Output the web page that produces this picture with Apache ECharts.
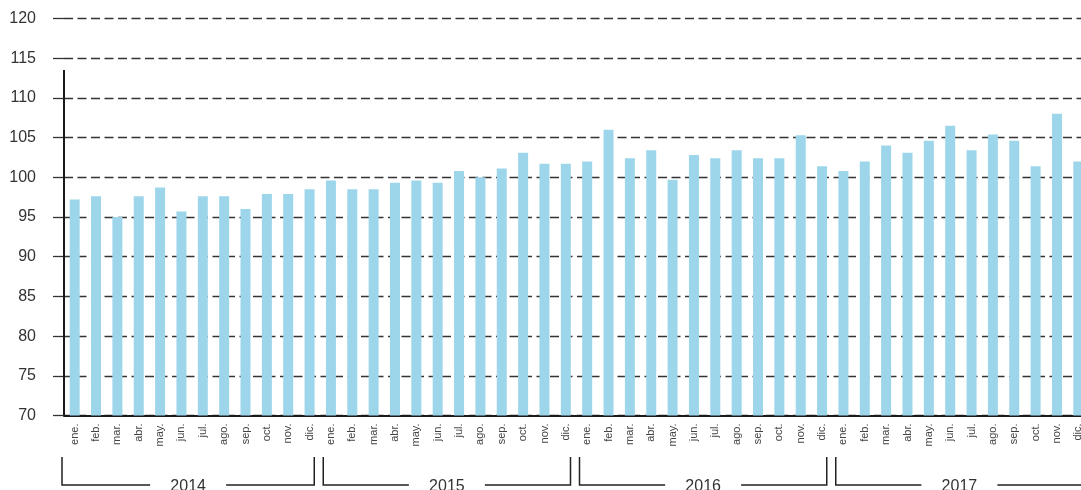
<!DOCTYPE html>
<html>
<head>
<meta charset="utf-8">
<script src="https://cdn.jsdelivr.net/npm/echarts@6/dist/echarts.min.js"></script>
<style>
  html, body { margin: 0; padding: 0; background: #fff; }
  #chart { width: 1081px; height: 490px; }
</style>
</head>
<body>
<div id="chart"></div>
<script>
// month labels and years
const months = ['ene.', 'feb.', 'mar.', 'abr.', 'may.', 'jun.', 'jul.', 'ago.', 'sep.', 'oct.', 'nov.', 'dic.'];
const years = ['2014', '2015', '2016', '2017'];

// index values per year
const v2014 = [97.2, 97.6, 95.0, 97.6, 98.7, 95.7, 97.6, 97.6, 96.0, 97.9, 97.9, 98.5];
const v2015 = [99.6, 98.5, 98.5, 99.3, 99.6, 99.3, 100.8, 100.0, 101.1, 103.1, 101.7, 101.7];
const v2016 = [102.0, 106.0, 102.4, 103.4, 99.7, 102.8, 102.4, 103.4, 102.4, 102.4, 105.3, 101.4];
const v2017 = [100.8, 102.0, 104.0, 103.1, 104.6, 106.5, 103.4, 105.4, 104.6, 101.4, 108.0, 102.0];

const yMin = 70;
const yMax = 120;
const yStep = 5;
const axisTop = 113.5; // vertical axis line stops below the 115 grid line

const categories = [];
years.forEach(() => months.forEach(m => categories.push(m)));
const values = [].concat(v2014, v2015, v2016, v2017);

const FONT = '"Liberation Sans", Arial, sans-serif';

const chart = echarts.init(document.getElementById('chart'), null, { renderer: 'canvas' });

const option = {
  animation: false,
  // plot runs a little past the right edge of the picture, as in the original
  grid: { left: 64, width: 1025, top: 18.5, bottom: 74.5, containLabel: false, outerBoundsMode: 'none' },
  xAxis: {
    type: 'category',
    data: categories,
    axisLine: { show: true, lineStyle: { color: '#1a1a1a', width: 2 } },
    axisTick: { show: false },
    axisLabel: {
      interval: 0,
      rotate: 90,
      margin: 8,
      color: '#444',
      fontSize: 11,
      fontFamily: FONT
    }
  },
  yAxis: {
    type: 'value',
    min: yMin,
    max: yMax,
    interval: yStep,
    axisLine: { show: false },
    axisTick: { show: true, length: 11, lineStyle: { color: '#333', width: 1.3 } },
    axisLabel: { margin: 28, color: '#333', fontSize: 16, fontFamily: FONT },
    splitLine: {
      show: true,
      lineStyle: { color: '#333', width: 1.3, type: [9, 4.5] }
    }
  },
  series: [{
    type: 'bar',
    data: values,
    barWidth: 10,
    itemStyle: { color: '#9dd6ea' }
  }]
};

chart.setOption(option);

// axis line and year brackets placed through the chart's own scales
function drawExtras() {
  const elements = [];
  const x0 = chart.convertToPixel({ xAxisIndex: 0 }, 0);
  const yTop = chart.convertToPixel({ yAxisIndex: 0 }, axisTop);
  const yBottom = chart.convertToPixel({ yAxisIndex: 0 }, yMin);
  const bw = chart.convertToPixel({ xAxisIndex: 0 }, 1) - x0;
  const axisX = x0 - bw / 2;

  elements.push({
    type: 'line',
    shape: { x1: axisX, y1: yTop, x2: axisX, y2: yBottom },
    style: { stroke: '#1a1a1a', lineWidth: 2 },
    z: 10
  });

  const bTop = 457;
  const bBottom = 485;
  const gap = 38;
  years.forEach((yr, k) => {
    const first = chart.convertToPixel({ xAxisIndex: 0 }, k * 12);
    const last = chart.convertToPixel({ xAxisIndex: 0 }, k * 12 + 11);
    const left = first - bw / 2 + (k === 0 ? -2 : 3);
    const right = last + bw / 2 - 6;
    const mid = (left + right) / 2;
    const st = { stroke: '#222', lineWidth: 1.5 };
    elements.push(
      { type: 'polyline', shape: { points: [[left, bTop], [left, bBottom], [mid - gap, bBottom]] }, style: Object.assign({ fill: null }, st) },
      { type: 'polyline', shape: { points: [[mid + gap, bBottom], [right, bBottom], [right, bTop]] }, style: Object.assign({ fill: null }, st) },
      {
        type: 'text',
        x: mid,
        y: bBottom + 2,
        style: {
          text: yr,
          fill: '#333',
          font: '16px ' + FONT,
          align: 'center',
          verticalAlign: 'middle'
        }
      }
    );
  });

  chart.setOption({ graphic: { elements: elements } });
}

drawExtras();
</script>
</body>
</html>
